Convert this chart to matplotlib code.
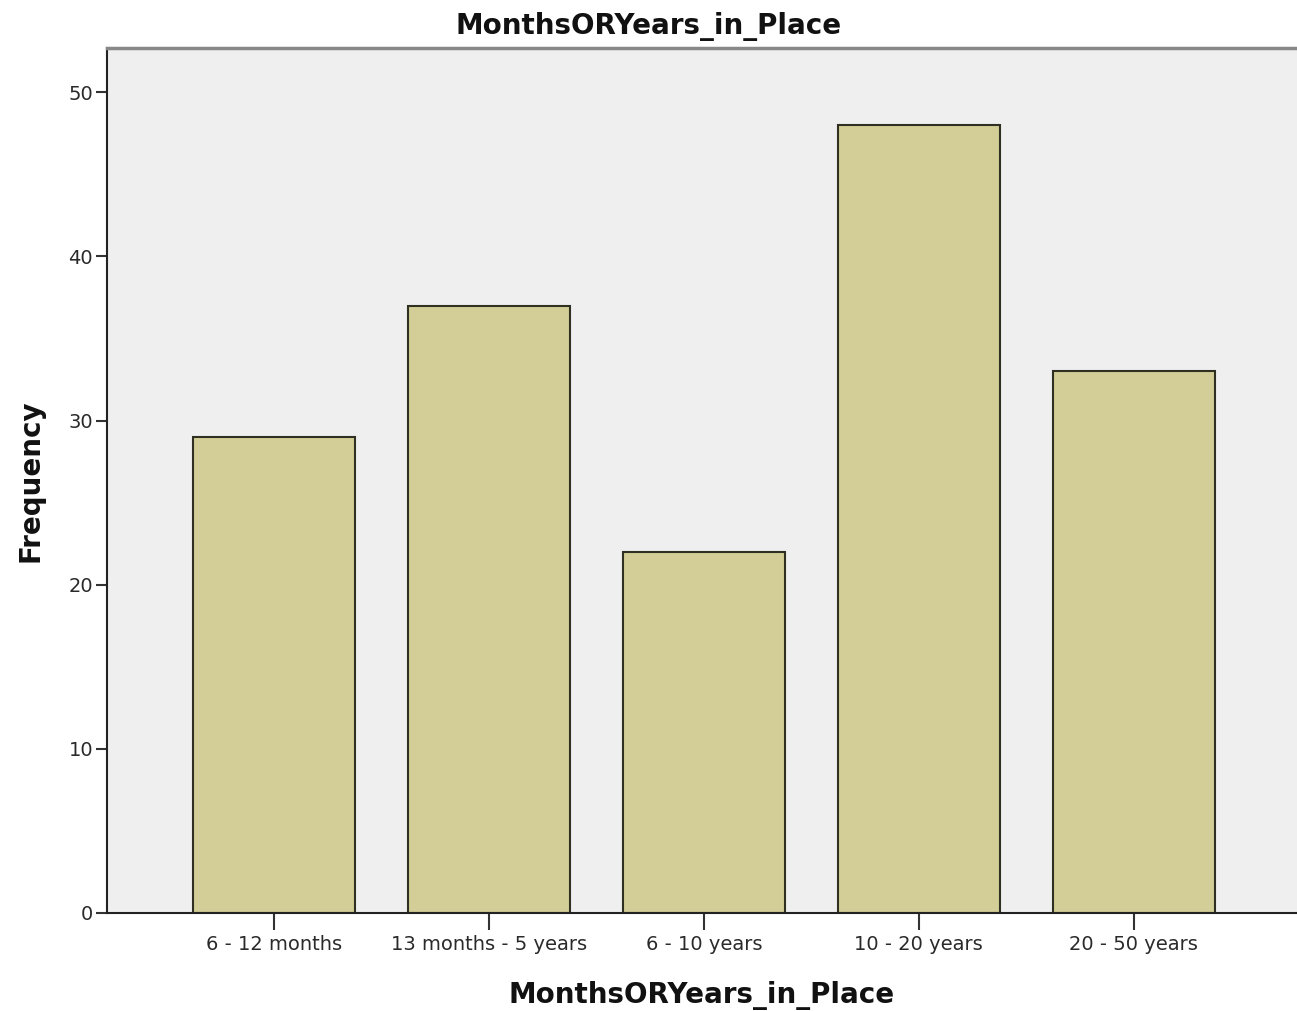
import matplotlib.pyplot as plt
import numpy as np

plt.rcParams['font.family'] = ['DejaVu Sans']

categories = ['6 - 12 months', '13 months - 5 years', '6 - 10 years', '10 - 20 years', '20 - 50 years']
frequency = [29, 37, 22, 48, 33]
y_ticks = [0, 10, 20, 30, 40, 50]

fig = plt.figure(figsize=(12.97, 10.11), dpi=100)
ax = fig.add_axes([0.0825, 0.097, 0.9175, 0.8555])
ax.set_facecolor('#efefef')

x = np.arange(len(categories))
ax.bar(x, frequency, width=0.753, color='#d3ce97', edgecolor='#2f2f22', linewidth=1.5, zorder=2)

ax.set_xlim(-0.777, 4.76)
ax.set_ylim(0, 52.7)
ax.set_xticks(x)
ax.set_xticklabels(categories, fontsize=14, color='#2a2a2a')
ax.set_yticks(y_ticks)
ax.set_yticklabels([str(v) for v in y_ticks], fontsize=14, color='#2a2a2a')
ax.tick_params(axis='x', length=12, width=1.5, color='#333333', pad=4)
ax.tick_params(axis='y', length=8, width=1.5, color='#333333', pad=2)

# spss style frame: dark left/bottom, grey top, no right
ax.spines['left'].set_color('#222222')
ax.spines['left'].set_linewidth(1.5)
ax.spines['bottom'].set_color('#222222')
ax.spines['bottom'].set_linewidth(1.5)
ax.spines['top'].set_color('#888888')
ax.spines['top'].set_linewidth(2.5)
ax.spines['right'].set_visible(False)

ax.set_xlabel('MonthsORYears_in_Place', fontsize=20, fontweight='bold', labelpad=19, color='#111111')
ax.set_ylabel('Frequency', fontsize=20, fontweight='bold', labelpad=17, color='#111111')
ax.set_title('MonthsORYears_in_Place', fontsize=20, fontweight='bold', pad=10, color='#111111', x=0.455)

plt.savefig('out.png', dpi=100)
